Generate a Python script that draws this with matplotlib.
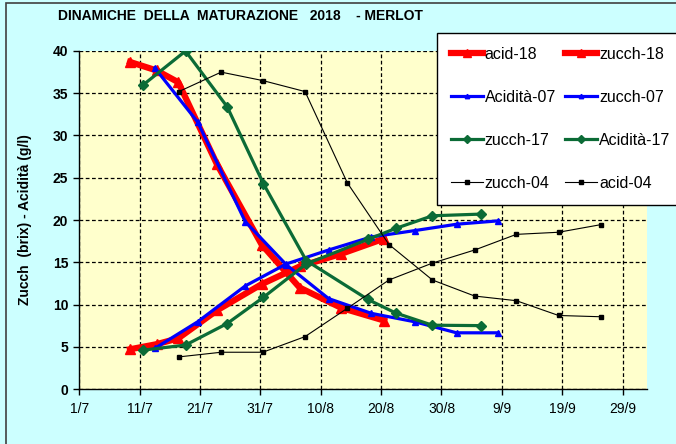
import matplotlib
matplotlib.use("Agg")
import matplotlib.pyplot as plt
from matplotlib.patches import Rectangle

# days counted from 1/7
days18 = [8.4, 12.8, 16.4, 22.8, 30.2, 36.5, 43.4, 50.5]
acid18 = [38.7, 37.7, 36.3, 26.6, 17.1, 12.0, 9.6, 8.1]
zucch18 = [4.7, 5.3, 6.0, 9.3, 12.4, 14.5, 16.0, 17.8]

days07 = [12.5, 19.6, 27.5, 34.3, 41.3, 48.4, 55.6, 62.5, 69.4]
acid07 = [38.0, 31.6, 19.8, 14.7, 10.7, 8.95, 7.95, 6.65, 6.65]
zucch07 = [4.8, 7.95, 12.2, 14.8, 16.45, 18.0, 18.75, 19.5, 19.9]

days17 = [10.6, 17.6, 24.5, 30.5, 37.6, 47.8, 52.4, 58.5, 66.6]
acid17 = [36.0, 40.0, 33.4, 24.3, 15.2, 10.6, 9.0, 7.55, 7.5]
zucch17 = [4.6, 5.2, 7.75, 10.85, 14.8, 17.7, 19.0, 20.5, 20.7]

days04 = [16.5, 23.5, 30.4, 37.4, 44.4, 51.3, 58.5, 65.5, 72.4, 79.4, 86.4]
zucch04 = [3.8, 4.35, 4.35, 6.2, 9.55, 12.9, 14.9, 16.45, 18.3, 18.55, 19.45]
acid04 = [35.2, 37.5, 36.5, 35.2, 24.4, 17.1, 12.9, 11.0, 10.45, 8.7, 8.55]

xticks = [0, 10, 20, 30, 40, 50, 60, 70, 80, 90]
xlabels = ["1/7", "11/7", "21/7", "31/7", "10/8", "20/8", "30/8", "9/9", "19/9", "29/9"]

plt.rcParams["font.family"] = ["Liberation Sans", "DejaVu Sans"]

red = "#FF0000"
blue = "#0000FF"
green = "#0B6B36"

fig = plt.figure(figsize=(6.76, 4.44), dpi=100)
fig.patch.set_facecolor("#CCFFFF")
# chart frame (runs off the right/bottom edge like the original)
fig.patches.append(Rectangle((6/676, -0.1), 1.2, 1 - 3/444 + 0.1, transform=fig.transFigure,
                             fill=False, edgecolor="#404040", lw=1.2))

ax = fig.add_axes([79.3/676, 1 - 389/444, (646.7 - 79.3)/676, (389 - 51)/444])
ax.set_facecolor("#FFFFCC")

# red 2018
h_a18, = ax.plot(days18, acid18, color=red, lw=4.5, marker="^", ms=7, label="acid-18")
h_z18, = ax.plot(days18, zucch18, color=red, lw=4.5, marker="^", ms=7, label="zucch-18")
# blue 2007
h_a07, = ax.plot(days07, acid07, color=blue, lw=2.3, marker="^", ms=4, label="Acidità-07")
h_z07, = ax.plot(days07, zucch07, color=blue, lw=2.3, marker="^", ms=4, label="zucch-07")
# green 2017
h_z17, = ax.plot(days17, zucch17, color=green, lw=2.3, marker="D", ms=5, label="zucch-17")
h_a17, = ax.plot(days17, acid17, color=green, lw=2.3, marker="D", ms=5, label="Acidità-17")
# black 2004
h_z04, = ax.plot(days04, zucch04, color="black", lw=0.8, marker="s", ms=3.5, label="zucch-04")
h_a04, = ax.plot(days04, acid04, color="black", lw=0.8, marker="s", ms=3.5, label="acid-04")

ax.set_xlim(0, 94)
ax.set_ylim(0, 40)
ax.set_xticks(xticks)
ax.set_xticklabels(xlabels, fontsize=10)
ax.set_yticks(range(0, 41, 5))
ax.set_yticklabels([str(v) for v in range(0, 41, 5)], fontsize=10, fontweight="bold")
ax.tick_params(axis="both", direction="out", length=4, width=1, color="black")
ax.tick_params(axis="x", pad=5)
ax.tick_params(axis="y", pad=4)
ax.grid(True, color="black", ls=(0, (3, 2)), lw=0.9)
ax.set_axisbelow(True)
for s in ["top", "right"]:
    ax.spines[s].set_visible(False)
for s in ["left", "bottom"]:
    ax.spines[s].set_color("black")
    ax.spines[s].set_linewidth(1)

fig.text(25/676, 1 - 220/444, "Zucch  (brix) - Acidità (g/l)", rotation=90,
         ha="center", va="center", fontsize=10, fontweight="bold")
fig.text(58/676, 1 - 16/444, "DINAMICHE  DELLA  MATURAZIONE   2018    - MERLOT",
         ha="left", va="center", fontsize=10, fontweight="bold")

# legend: Excel fills row by row, matplotlib column by column
handles = [h_a18, h_a07, h_z17, h_z04, h_z18, h_z07, h_a17, h_a04]
leg = fig.legend(handles=handles, labels=[h.get_label() for h in handles], ncol=2,
                 loc="upper left", bbox_to_anchor=(436.7/676, 1 - 32.7/444),
                 fontsize=11.5, frameon=True, fancybox=False, framealpha=1,
                 edgecolor="black", handlelength=2.0, handletextpad=0.1,
                 columnspacing=0.6, labelspacing=1.75, borderpad=0.9,
                 borderaxespad=0, markerscale=0.8)
leg.get_frame().set_linewidth(1)

fig.savefig("out.png", dpi=100, facecolor=fig.get_facecolor())
